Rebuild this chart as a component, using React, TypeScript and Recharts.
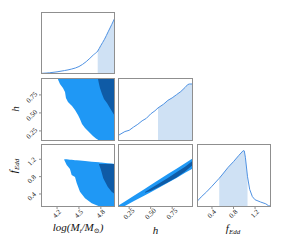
import React from "react";
import { ComposedChart, Area, Line, XAxis, YAxis } from "recharts";

// tick labels
const mTicks = [4.2, 4.5, 4.8];
const hTicks = [0.25, 0.5, 0.75];
const fTicks = [0.4, 0.8, 1.2];

// log(M) marginal
const mGrid = [3.98, 4.05, 4.1, 4.2, 4.3, 4.4, 4.5, 4.6, 4.7, 4.757, 4.8, 4.85, 4.9, 4.95, 4.99];
const mDensity = [0.01, 0.015, 0.02, 0.035, 0.055, 0.08, 0.12, 0.2, 0.31, 0.37, 0.46, 0.56, 0.68, 0.8, 0.9];
const mBand = [4.757, 4.99];

// h marginal
const hGrid = [0.125, 0.2, 0.25, 0.3, 0.35, 0.4, 0.45, 0.5, 0.55, 0.585, 0.65, 0.7, 0.75, 0.8, 0.85, 0.9, 0.93, 0.95, 0.99];
const hDensity = [0.09, 0.15, 0.17, 0.22, 0.265, 0.32, 0.36, 0.43, 0.48, 0.525, 0.585, 0.645, 0.685, 0.735, 0.785, 0.85, 0.895, 0.905, 0.905];
const hBand = [0.585, 0.99];

// f_Edd marginal
const fGrid = [0.125, 0.2, 0.3, 0.4, 0.535, 0.6, 0.7, 0.8, 0.9, 0.98, 1.0, 1.02, 1.06, 1.1, 1.15, 1.2, 1.3, 1.4, 1.45, 1.495];
const fDensity = [0.09, 0.16, 0.24, 0.33, 0.456, 0.523, 0.63, 0.72, 0.82, 0.895, 0.89, 0.79, 0.48, 0.28, 0.165, 0.115, 0.08, 0.05, 0.02, 0.015];
const fBand = [0.535, 1.06];

// log(M) vs h contours
const mhGrid = [4.213, 4.24, 4.281, 4.309, 4.322, 4.35, 4.377, 4.405, 4.446, 4.487, 4.514, 4.542, 4.583, 4.624, 4.651, 4.692, 4.733, 4.761, 4.775, 4.788, 4.816, 4.843, 4.884, 4.925, 4.966, 4.99];
const mhOuterLow = [0.965, 0.902, 0.846, 0.79, 0.707, 0.652, 0.624, 0.596, 0.54, 0.471, 0.416, 0.346, 0.29, 0.249, 0.221, 0.179, 0.145, 0.128, 0.118, 0.11, 0.11, 0.11, 0.11, 0.11, 0.11, 0.11];
const mhOuterHigh = [0.975, 0.975, 0.975, 0.975, 0.975, 0.975, 0.975, 0.975, 0.975, 0.975, 0.975, 0.975, 0.975, 0.975, 0.975, 0.975, 0.975, 0.975, 0.975, 0.975, 0.975, 0.975, 0.975, 0.975, 0.975, 0.975];
const mhInnerLow = [null, null, null, null, null, null, null, null, null, null, null, null, null, null, null, null, null, 0.97, 0.902, 0.846, 0.763, 0.693, 0.638, 0.568, 0.499, 0.46];
const mhInnerHigh = [null, null, null, null, null, null, null, null, null, null, null, null, null, null, null, null, null, 0.975, 0.975, 0.975, 0.975, 0.975, 0.975, 0.975, 0.975, 0.975];

// log(M) vs f_Edd contours
const mfGrid = [4.299, 4.332, 4.377, 4.4, 4.446, 4.469, 4.514, 4.583, 4.675, 4.775, 4.788, 4.802, 4.833, 4.894, 4.948, 4.99];
const mfOuterLow = [1.183, 1.068, 0.976, 0.837, 0.791, 0.653, 0.453, 0.3, 0.185, 0.115, 0.1, 0.1, 0.1, 0.1, 0.1, 0.1];
const mfOuterHigh = [1.2, 1.2, 1.19, 1.19, 1.18, 1.18, 1.17, 1.16, 1.145, 1.13, 1.125, 1.125, 1.12, 1.11, 1.1, 1.09];
const mfInnerLow = [null, null, null, null, null, null, null, null, null, 1.08, 1.02, 0.953, 0.761, 0.568, 0.453, 0.4];
const mfInnerHigh = [null, null, null, null, null, null, null, null, null, 1.09, 1.09, 1.09, 1.09, 1.09, 1.09, 1.09];

// h vs f_Edd contours
const hfGrid = [0.13, 0.2, 0.3, 0.434, 0.5, 0.6, 0.7, 0.8, 0.9, 0.99];
const hfOuterLow = [0.1, 0.125, 0.23, 0.37, 0.44, 0.55, 0.66, 0.77, 0.89, 0.99];
const hfOuterHigh = [0.14, 0.228, 0.354, 0.523, 0.606, 0.732, 0.858, 0.984, 1.11, 1.223];
const hfInnerLow = [null, null, null, 0.43, 0.47, 0.565, 0.67, 0.78, 0.92, 1.07];
const hfInnerHigh = [null, null, null, 0.445, 0.525, 0.645, 0.77, 0.9, 1.03, 1.167];

const mDomain = [3.98, 4.994];
const hDomainX = [0.12, 0.992];
const hDomainY = [0.11, 0.985];
const fDomainX = [0.122, 1.496];
const fDomainY = [0.1, 1.552];

const GRAY = "#8f8f8f";
const LINE = "#4f92e3";
const SHADE = "#cfe1f4";
const LIGHT = "#1f98f5";
const DARK = "#0f5ba6";
const SERIF = "'Liberation Serif', 'DejaVu Serif', serif";

const cols = [
  { x: 41, w: 74 },
  { x: 118, w: 75 },
  { x: 197, w: 74 },
];
const rows = [
  { y: 12, h: 62 },
  { y: 78, h: 63 },
  { y: 144, h: 63 },
];

const histTable = (grid: number[], dens: number[], band: number[]) =>
  grid.map((x, i) => ({
    x,
    y: dens[i],
    band: x >= band[0] && x <= band[1] ? dens[i] : null,
  }));

const jointTable = (grid: number[], oLo: any[], oHi: any[], iLo: any[], iHi: any[]) =>
  grid.map((x, i) => ({
    x,
    outer: oLo[i] == null ? null : [oLo[i], oHi[i]],
    inner: iLo[i] == null ? null : [iLo[i], iHi[i]],
  }));

const XTick = (props: any) => {
  const { x, y, payload, digits } = props;
  return (
    <text
      transform={`translate(${x},${y + 4}) rotate(-45)`}
      textAnchor="middle"
      dominantBaseline="central"
      fontSize={7}
      fontFamily={SERIF}
      fill="#222"
    >
      {payload.value.toFixed(digits)}
    </text>
  );
};

const YTick = (props: any) => {
  const { x, y, payload, digits } = props;
  return (
    <text
      transform={`translate(${x - 6},${y + 2.5}) rotate(-45)`}
      textAnchor="middle"
      dominantBaseline="central"
      fontSize={7}
      fontFamily={SERIF}
      fill="#222"
    >
      {payload.value.toFixed(digits)}
    </text>
  );
};

function Panel({ col, row, data, xDomain, yDomain, xTicks, yTicks, xDigits, yDigits, children }: any) {
  const yw = yTicks ? 41 : 0;
  const xh = xTicks ? 30 : 0;
  return (
    <div style={{ position: "absolute", left: col.x - yw, top: row.y }}>
      <ComposedChart
        width={col.w + yw}
        height={row.h + xh}
        data={data}
        margin={{ top: 0, right: 0, bottom: 0, left: 0 }}
      >
        <XAxis
          dataKey="x"
          type="number"
          domain={xDomain}
          allowDataOverflow
          ticks={xTicks || []}
          interval={0}
          hide={!xTicks}
          height={xh}
          axisLine={false}
          tickSize={2}
          tickMargin={1}
          tickLine={{ stroke: GRAY }}
          tick={<XTick digits={xDigits} />}
        />
        <YAxis
          type="number"
          domain={yDomain}
          allowDataOverflow
          ticks={yTicks || []}
          interval={0}
          hide={!yTicks}
          width={yw}
          axisLine={false}
          tickSize={2}
          tickMargin={1}
          tickLine={{ stroke: GRAY }}
          tick={<YTick digits={yDigits} />}
        />
        {children}
      </ComposedChart>
      <div
        style={{
          position: "absolute",
          left: yw,
          top: 0,
          width: col.w,
          height: row.h,
          border: `1px solid ${GRAY}`,
          boxSizing: "border-box",
        }}
      />
    </div>
  );
}

const histSeries = (type: "monotone" | "linear") => [
  <Area key="b" dataKey="band" type={type} stroke="none" fill={SHADE} fillOpacity={1} dot={false} activeDot={false} isAnimationActive={false} />,
  <Line key="l" dataKey="y" type={type} stroke={LINE} strokeWidth={1} dot={false} activeDot={false} isAnimationActive={false} />,
];

const jointSeries = () => [
  <Area key="o" dataKey="outer" type="linear" stroke="none" fill={LIGHT} fillOpacity={1} dot={false} activeDot={false} isAnimationActive={false} />,
  <Area key="i" dataKey="inner" type="linear" stroke="none" fill={DARK} fillOpacity={1} dot={false} activeDot={false} isAnimationActive={false} />,
];

export default function App() {
  return (
    <div style={{ position: "absolute", left: 0, top: 0, width: 285, height: 244, background: "#fff" }}>
      <Panel col={cols[0]} row={rows[0]} data={histTable(mGrid, mDensity, mBand)} xDomain={mDomain} yDomain={[0, 1]}>
        {histSeries("monotone")}
      </Panel>
      <Panel
        col={cols[0]}
        row={rows[1]}
        data={jointTable(mhGrid, mhOuterLow, mhOuterHigh, mhInnerLow, mhInnerHigh)}
        xDomain={mDomain}
        yDomain={hDomainY}
        yTicks={hTicks}
        yDigits={2}
      >
        {jointSeries()}
      </Panel>
      <Panel col={cols[1]} row={rows[1]} data={histTable(hGrid, hDensity, hBand)} xDomain={hDomainX} yDomain={[0, 1]}>
        {histSeries("linear")}
      </Panel>
      <Panel
        col={cols[0]}
        row={rows[2]}
        data={jointTable(mfGrid, mfOuterLow, mfOuterHigh, mfInnerLow, mfInnerHigh)}
        xDomain={mDomain}
        yDomain={fDomainY}
        xTicks={mTicks}
        xDigits={1}
        yTicks={fTicks}
        yDigits={1}
      >
        {jointSeries()}
      </Panel>
      <Panel
        col={cols[1]}
        row={rows[2]}
        data={jointTable(hfGrid, hfOuterLow, hfOuterHigh, hfInnerLow, hfInnerHigh)}
        xDomain={hDomainX}
        yDomain={fDomainY}
        xTicks={hTicks}
        xDigits={2}
      >
        {jointSeries()}
      </Panel>
      <Panel
        col={cols[2]}
        row={rows[2]}
        data={histTable(fGrid, fDensity, fBand)}
        xDomain={fDomainX}
        yDomain={[0, 1]}
        xTicks={fTicks}
        xDigits={1}
      >
        {histSeries("linear")}
      </Panel>

      <svg width={285} height={244} style={{ position: "absolute", left: 0, top: 0, pointerEvents: "none" }}>
        <g fontFamily={SERIF} fontStyle="italic" fill="#111">
          <text x={78} y={231} fontSize={11} textAnchor="middle">
            log(M<tspan dy={2} fontSize={7}>i</tspan>
            <tspan dy={-2}>/M</tspan>
            <tspan dy={2} fontSize={7} fontStyle="normal">⊙</tspan>
            <tspan dy={-2}>)</tspan>
          </text>
          <text x={155.5} y={234} fontSize={11} textAnchor="middle">h</text>
          <text x={233} y={232} fontSize={11} textAnchor="middle">
            f<tspan dy={2} fontSize={7}>Edd</tspan>
          </text>
          <text x={18.5} y={109} fontSize={11} textAnchor="middle" transform="rotate(-90 18.5 109)">h</text>
          <text x={16.5} y={166} fontSize={11} textAnchor="middle" transform="rotate(-90 16.5 166)">
            f<tspan dy={2} fontSize={7}>Edd</tspan>
          </text>
        </g>
      </svg>
    </div>
  );
}
